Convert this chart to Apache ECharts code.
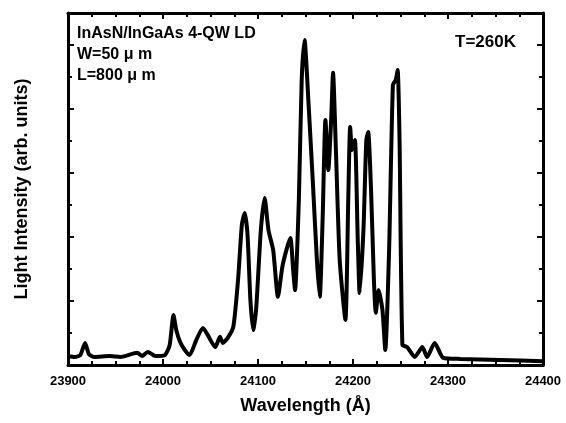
<!DOCTYPE html>
<html>
<head>
<meta charset="utf-8">
<script src="https://cdn.jsdelivr.net/npm/echarts@6/dist/echarts.min.js"></script>
<style>
  html, body { margin: 0; padding: 0; background: #fff; }
  #spectrum { width: 566px; height: 423px; }
</style>
</head>
<body>
<div id="spectrum"></div>
<script>
// wavelength in angstrom, intensity in arb. units
var wavelength = [
    23900, 23907, 23913, 23918, 23922, 23928, 23944, 23955, 23973, 23978,
    23984, 23992, 24002, 24007, 24011, 24014, 24018, 24023, 24028, 24035,
    24042, 24047, 24055, 24060, 24063, 24068, 24074, 24079, 24083, 24086,
    24089, 24092, 24095, 24098, 24103, 24107, 24111, 24116, 24121, 24126,
    24134, 24137, 24139, 24143, 24146, 24149, 24153, 24158, 24162, 24165,
    24168, 24171, 24174, 24177, 24179, 24182, 24186, 24192, 24195, 24197,
    24199, 24202, 24205, 24207, 24211, 24214, 24216, 24219, 24222, 24224,
    24227, 24231, 24234, 24238, 24242, 24245, 24247, 24249, 24252, 24257,
    24265, 24273, 24278, 24286, 24295, 24313, 24355, 24400
];
var intensity = [
    0.28, 0.25, 0.31, 0.69, 0.34, 0.25, 0.28, 0.25, 0.38, 0.28,
    0.41, 0.28, 0.31, 0.62, 1.56, 1.09, 0.72, 0.47, 0.31, 0.78,
    1.16, 0.94, 0.56, 0.88, 0.69, 0.84, 1.19, 2.66, 4.38, 4.75,
    4.06, 2.03, 1.09, 1.72, 4.22, 5.22, 4.22, 3.59, 2.13, 3.13,
    3.97, 2.97, 2.34, 5.16, 8.91, 10.16, 8.28, 5.56, 3.28, 2.13,
    4.53, 7.66, 6.09, 7.66, 9.13, 6.72, 3.28, 1.41, 5.16, 7.44,
    6.72, 7.03, 3.91, 2.25, 4.22, 7.03, 7.28, 5.47, 2.66, 1.63,
    2.34, 1.72, 0.47, 3.59, 8.75, 8.91, 9.22, 7.03, 0.63, 0.56,
    0.25, 0.56, 0.25, 0.69, 0.22, 0.19, 0.16, 0.12
];
var xTicks = [23900, 24400, 100];
var yRange = [0, 11, 2];

var labelFont = 'Liberation Sans, Arial, sans-serif';

var myChart = echarts.init(document.getElementById('spectrum'));

var points = wavelength.map(function (w, i) {
    return [w, intensity[i]];
});

function xAxisOf(pos, showLabel) {
    return {
        type: 'value',
        position: pos,
        min: xTicks[0],
        max: xTicks[1],
        interval: xTicks[2],
        name: showLabel ? 'Wavelength (Å)' : '',
        nameLocation: 'middle',
        nameGap: 32,
        nameTextStyle: {
            color: '#000', fontFamily: labelFont, fontWeight: 'bold', fontSize: 18
        },
        axisLine: { show: true, onZero: false, lineStyle: { color: '#000', width: 3 } },
        axisTick: { show: true, inside: true, length: 6, lineStyle: { color: '#000', width: 2 } },
        minorTick: { show: true, splitNumber: 4, length: 4, lineStyle: { color: '#000', width: 2 } },
        axisLabel: {
            show: showLabel, color: '#000', fontFamily: labelFont,
            fontWeight: 'bold', fontSize: 13, margin: 10,
            formatter: function (v) { return String(v); }
        },
        splitLine: { show: false }
    };
}

function yAxisOf(pos, showName) {
    return {
        type: 'value',
        position: pos,
        min: yRange[0],
        max: yRange[1],
        interval: yRange[2],
        name: showName ? 'Light Intensity (arb. units)' : '',
        nameLocation: 'middle',
        nameGap: 37,
        nameRotate: 90,
        nameTextStyle: {
            color: '#000', fontFamily: labelFont, fontWeight: 'bold', fontSize: 18
        },
        axisLine: { show: true, onZero: false, lineStyle: { color: '#000', width: 3 } },
        axisTick: { show: true, inside: true, length: 6, lineStyle: { color: '#000', width: 2 } },
        minorTick: { show: true, splitNumber: 2, length: 4, lineStyle: { color: '#000', width: 2 } },
        axisLabel: { show: false },
        splitLine: { show: false }
    };
}

option = {
    animation: false,
    backgroundColor: '#fff',
    grid: { left: 68, right: 23, top: 13, bottom: 58 },
    xAxis: [xAxisOf('bottom', true), xAxisOf('top', false)],
    yAxis: [yAxisOf('left', true), yAxisOf('right', false)],
    graphic: [
        {
            type: 'text', left: 77, top: 26,
            style: { text: 'InAsN/InGaAs 4-QW LD', fill: '#000', font: 'bold 16px ' + labelFont }
        },
        {
            type: 'text', left: 77, top: 47,
            style: { text: 'W=50 μ m', fill: '#000', font: 'bold 16px ' + labelFont }
        },
        {
            type: 'text', left: 77, top: 68,
            style: { text: 'L=800 μ m', fill: '#000', font: 'bold 16px ' + labelFont }
        },
        {
            type: 'text', left: 455, top: 34,
            style: { text: 'T=260K', fill: '#000', font: 'bold 17px ' + labelFont }
        }
    ],
    series: [{
        name: 'spectrum',
        type: 'line',
        data: points,
        showSymbol: false,
        smooth: 0.2,
        lineStyle: { color: '#000', width: 4 }
    }]
};
myChart.setOption(option);
</script>
</body>
</html>
